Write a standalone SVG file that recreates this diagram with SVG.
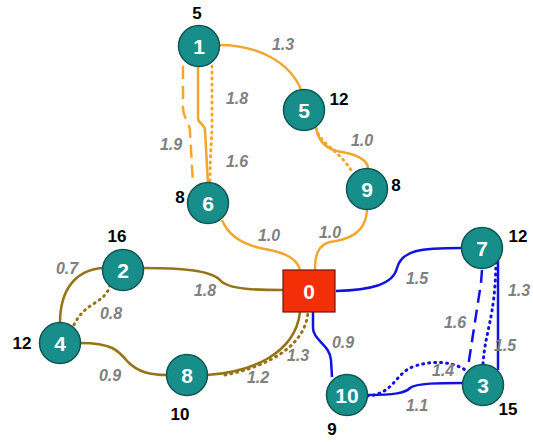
<svg xmlns="http://www.w3.org/2000/svg" width="533" height="442" viewBox="0 0 533 442">
<style>
.o{fill:none;stroke:#F2A630;stroke-width:2.5}
.b{fill:none;stroke:#957318;stroke-width:2.5}
.u{fill:none;stroke:#1212E0;stroke-width:2.5}
.dot{stroke-width:3;stroke-dasharray:1 5;stroke-linecap:round}
.dash{stroke-dasharray:13 7}
.w{font-family:"Liberation Sans",Arial,sans-serif;font-style:italic;font-weight:bold;font-size:16px;fill:#808080;text-anchor:middle}
.c{font-family:"Liberation Sans",Arial,sans-serif;font-weight:bold;font-size:17px;fill:#000;text-anchor:middle}
.n circle{fill:#178E8A;stroke:#0F5551;stroke-width:1.5}
.n text{font-family:"Liberation Sans",Arial,sans-serif;font-weight:bold;font-size:21px;fill:#fff;text-anchor:middle}
</style>
<rect width="533" height="442" fill="#fff"/>
<g id="connectors">
<path class="o" d="M219,45 C255,45 290,60 302,92"/>
<path class="o" d="M198,67 L198,118 C198,124 205,124 205,130 L208,184"/>
<path class="o dot" d="M212,66 L212,125 C212,140 210,150 210,184"/>
<path class="o dash" d="M183,66 L183,108 C183,118 190,122 190,132 L193,184"/>
<path class="o" d="M316,127 C318,140 325,150 342,152 C360,155 368,162 368,168"/>
<path class="o dot" d="M316,128 C320,145 340,150 352,172"/>
<path class="o" d="M222,220 C230,240 250,247 270,250 C290,254 298,262 300,270"/>
<path class="o" d="M367,208 C367,235 345,240 330,242 C318,245 315,255 315,270"/>
<path class="b" d="M143,268 C180,268 210,270 220,280 C228,290 260,290 283,290"/>
<path class="b" d="M103,268 C75,270 60,290 60,323"/>
<path class="b dot" d="M110,285 C105,305 85,300 73,327"/>
<path class="b" d="M80,343 C112,343 118,350 128,362 C138,372 150,375 167,375"/>
<path class="b" d="M207,375 C250,372 295,355 300,312"/>
<path class="b dot" d="M225,375 C260,368 305,350 308,312"/>
<path class="u" d="M336,291 C370,290 393,285 397,268 C402,250 420,248 462,248"/>
<path class="u" d="M313,312 L313,328 C313,340 330,345 331,360 L332,377"/>
<path class="u" d="M367,395 C395,395 405,393 410,388 C416,383 440,383 463,383"/>
<path class="u dot" d="M367,396 C395,394 395,372 415,366 C440,358 460,365 468,372"/>
<path class="u dash" d="M482,270 L481,283 L468,367"/>
<path class="u dot" d="M496,262 C495,320 485,330 483,365"/>
<path class="u" d="M498,260 L498,370"/>
</g>
<g id="weights">
<text class="w" x="283" y="50">1.3</text>
<text class="w" x="237" y="104">1.8</text>
<text class="w" x="237" y="167">1.6</text>
<text class="w" x="171" y="150">1.9</text>
<text class="w" x="362" y="146">1.0</text>
<text class="w" x="269" y="241">1.0</text>
<text class="w" x="330" y="238">1.0</text>
<text class="w" x="67" y="274">0.7</text>
<text class="w" x="111" y="319">0.8</text>
<text class="w" x="205" y="296">1.8</text>
<text class="w" x="110" y="381">0.9</text>
<text class="w" x="258" y="383">1.2</text>
<text class="w" x="298" y="361">1.3</text>
<text class="w" x="417" y="284">1.5</text>
<text class="w" x="343" y="348">0.9</text>
<text class="w" x="417" y="411">1.1</text>
<text class="w" x="443" y="376">1.4</text>
<text class="w" x="455" y="328">1.6</text>
<text class="w" x="519" y="296">1.3</text>
<text class="w" x="505" y="351">1.5</text>
</g>
<g id="counts">
<text class="c" x="197" y="19">5</text>
<text class="c" x="339" y="105">12</text>
<text class="c" x="396" y="191">8</text>
<text class="c" x="180" y="203">8</text>
<text class="c" x="117" y="242">16</text>
<text class="c" x="22" y="349">12</text>
<text class="c" x="180" y="420">10</text>
<text class="c" x="518" y="242">12</text>
<text class="c" x="508" y="415">15</text>
<text class="c" x="332" y="435">9</text>
</g>
<g id="node0"><rect x="283" y="270" width="52" height="42" fill="#F42E06" stroke="#6B1A05" stroke-width="1.2"/><text x="309" y="299" font-family="Liberation Sans,Arial,sans-serif" font-weight="bold" font-size="21" fill="#fff" text-anchor="middle">0</text></g>
<g id="node1" class="n"><circle cx="199" cy="46" r="20.5"/><text x="199" y="54">1</text></g>
<g id="node5" class="n"><circle cx="304" cy="110" r="20.5"/><text x="304" y="118">5</text></g>
<g id="node9" class="n"><circle cx="367" cy="189" r="20.5"/><text x="367" y="197">9</text></g>
<g id="node6" class="n"><circle cx="208" cy="203" r="20.5"/><text x="208" y="211">6</text></g>
<g id="node2" class="n"><circle cx="123" cy="270" r="20.5"/><text x="123" y="278">2</text></g>
<g id="node4" class="n"><circle cx="60" cy="343" r="20.5"/><text x="60" y="351">4</text></g>
<g id="node8" class="n"><circle cx="187" cy="375" r="20.5"/><text x="187" y="383">8</text></g>
<g id="node7" class="n"><circle cx="482" cy="248" r="20.5"/><text x="482" y="256">7</text></g>
<g id="node3" class="n"><circle cx="483" cy="385" r="20.5"/><text x="483" y="393">3</text></g>
<g id="node10" class="n"><circle cx="347" cy="395" r="20.5"/><text x="347" y="403">10</text></g>
</svg>
